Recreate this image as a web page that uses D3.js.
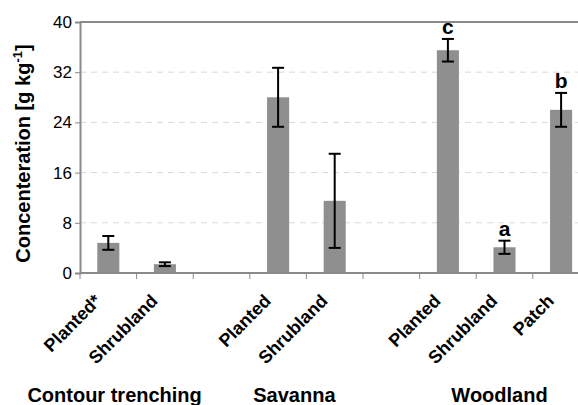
<!DOCTYPE html>
<html><head><meta charset="utf-8">
<script src="https://cdn.jsdelivr.net/npm/d3@7"></script>
<style>
html,body{margin:0;padding:0;background:#fff;}
svg{display:block;font-family:"Liberation Sans",Arial,sans-serif;}
</style></head>
<body>
<svg id="chart" width="578" height="405"></svg>
<script>
const categories = ["Planted*","Shrubland","","Planted","Shrubland","","Planted","Shrubland","Patch"];
const values = [4.8, 1.4, null, 28, 11.5, null, 35.5, 4.1, 26];
const errors = [1.1, 0.3, null, 4.7, 7.5, null, 1.8, 1.05, 2.7];
const letters = ["", "", "", "", "", "", "c", "a", "b"];
const groupNames = ["Contour trenching", "Savanna", "Woodland"];
const groupSpans = [[0,1],[3,4],[6,8]];
const yTicks = [0, 8, 16, 24, 32, 40];

(function(){
const svg = d3.select("#chart");
const mLeft = 80, mTop = 22, mBottom = 273, step = 56.6;
const idx = categories.map((d,i)=>i);
const x = d3.scaleBand().domain(idx).range([mLeft, mLeft + step*categories.length]).padding(0);
const y = d3.scaleLinear().domain([0, 40]).range([mBottom, mTop]);
const axisCol = "#8a8a8a";

// gridlines
svg.append("g").selectAll("line").data(yTicks.filter(t=>t>0 && t<40)).join("line")
  .attr("x1", mLeft).attr("x2", 578).attr("y1", d=>y(d)).attr("y2", d=>y(d))
  .attr("stroke", "#d9d9d9").attr("stroke-width", 1).attr("stroke-dasharray", "6,5");

// top border
svg.append("line").attr("x1", mLeft).attr("x2", 578).attr("y1", y(40)).attr("y2", y(40))
  .attr("stroke", axisCol).attr("stroke-width", 2);

// bars
const bw = x.bandwidth()*0.39;
const data = idx.filter(i=>values[i]!=null);
svg.append("g").selectAll("rect").data(data).join("rect")
  .attr("x", i=>x(i)+x.bandwidth()/2-bw/2).attr("width", bw)
  .attr("y", i=>y(values[i])).attr("height", i=>y(0)-y(values[i]))
  .attr("fill", "#8f8f8f");

// error bars
const eg = svg.append("g").attr("stroke", "#000").attr("stroke-width", 2);
data.forEach(i=>{
  const cx = x(i)+x.bandwidth()/2, hi = y(values[i]+errors[i]), lo = y(values[i]-errors[i]);
  eg.append("line").attr("x1", cx).attr("x2", cx).attr("y1", hi).attr("y2", lo);
  eg.append("line").attr("x1", cx-6).attr("x2", cx+6).attr("y1", hi).attr("y2", hi);
  eg.append("line").attr("x1", cx-6).attr("x2", cx+6).attr("y1", lo).attr("y2", lo);
});

// letters
svg.append("g").selectAll("text").data(idx.filter(i=>letters[i])).join("text")
  .attr("x", i=>x(i)+x.bandwidth()/2).attr("y", i=>y(values[i]+errors[i])-5)
  .attr("text-anchor", "middle").attr("font-weight", "bold").attr("font-size", 21)
  .text(i=>letters[i]);

// y axis
const yAxis = svg.append("g").attr("transform", `translate(${mLeft},0)`)
  .call(d3.axisLeft(y).tickValues(yTicks).tickSize(5).tickPadding(3));
yAxis.select(".domain").attr("stroke", axisCol).attr("stroke-width", 2);
yAxis.selectAll(".tick line").attr("stroke", axisCol).attr("stroke-width", 1);
yAxis.selectAll(".tick text").attr("font-size", 17).attr("fill", "#000")
  .attr("font-family", "Liberation Sans, Arial, sans-serif");

// x axis
const xAxisG = svg.append("g").attr("transform", `translate(0,${mBottom})`);
xAxisG.append("line").attr("x1", mLeft).attr("x2", 578).attr("y1", 0).attr("y2", 0)
  .attr("stroke", axisCol).attr("stroke-width", 2);
const boundaries = idx.map(i=>x(i)).concat([x.range()[1]]);
xAxisG.selectAll("line.tk").data(boundaries).join("line").attr("class","tk")
  .attr("x1", d=>d).attr("x2", d=>d).attr("y1", 0).attr("y2", 6)
  .attr("stroke", axisCol).attr("stroke-width", 1);

// category labels
svg.append("g").selectAll("text").data(idx.filter(i=>categories[i])).join("text")
  .attr("transform", i=>`translate(${x(i)+x.bandwidth()/2-6},${mBottom+29}) rotate(-45)`)
  .attr("text-anchor", "end").attr("font-weight", "bold").attr("font-size", 18)
  .text(i=>categories[i]);

// group labels
const groupShift = [-22, -12, -5];
svg.append("g").selectAll("text").data(groupNames).join("text")
  .attr("x", (d,k)=>(x(groupSpans[k][0]) + x(groupSpans[k][1]) + x.bandwidth())/2 + groupShift[k])
  .attr("y", 402).attr("text-anchor", "middle").attr("font-weight", "bold").attr("font-size", 20)
  .text(d=>d);

// y title
const yt = svg.append("text").attr("transform", `translate(30,${(mTop+mBottom)/2+6}) rotate(-90)`)
  .attr("text-anchor", "middle").attr("font-weight", "bold").attr("font-size", 20);
yt.append("tspan").text("Concenteration [g kg");
yt.append("tspan").attr("font-size", 13).attr("dy", -8).text("-1");
yt.append("tspan").attr("dy", 8).text("]");
})();
</script>
</body></html>
